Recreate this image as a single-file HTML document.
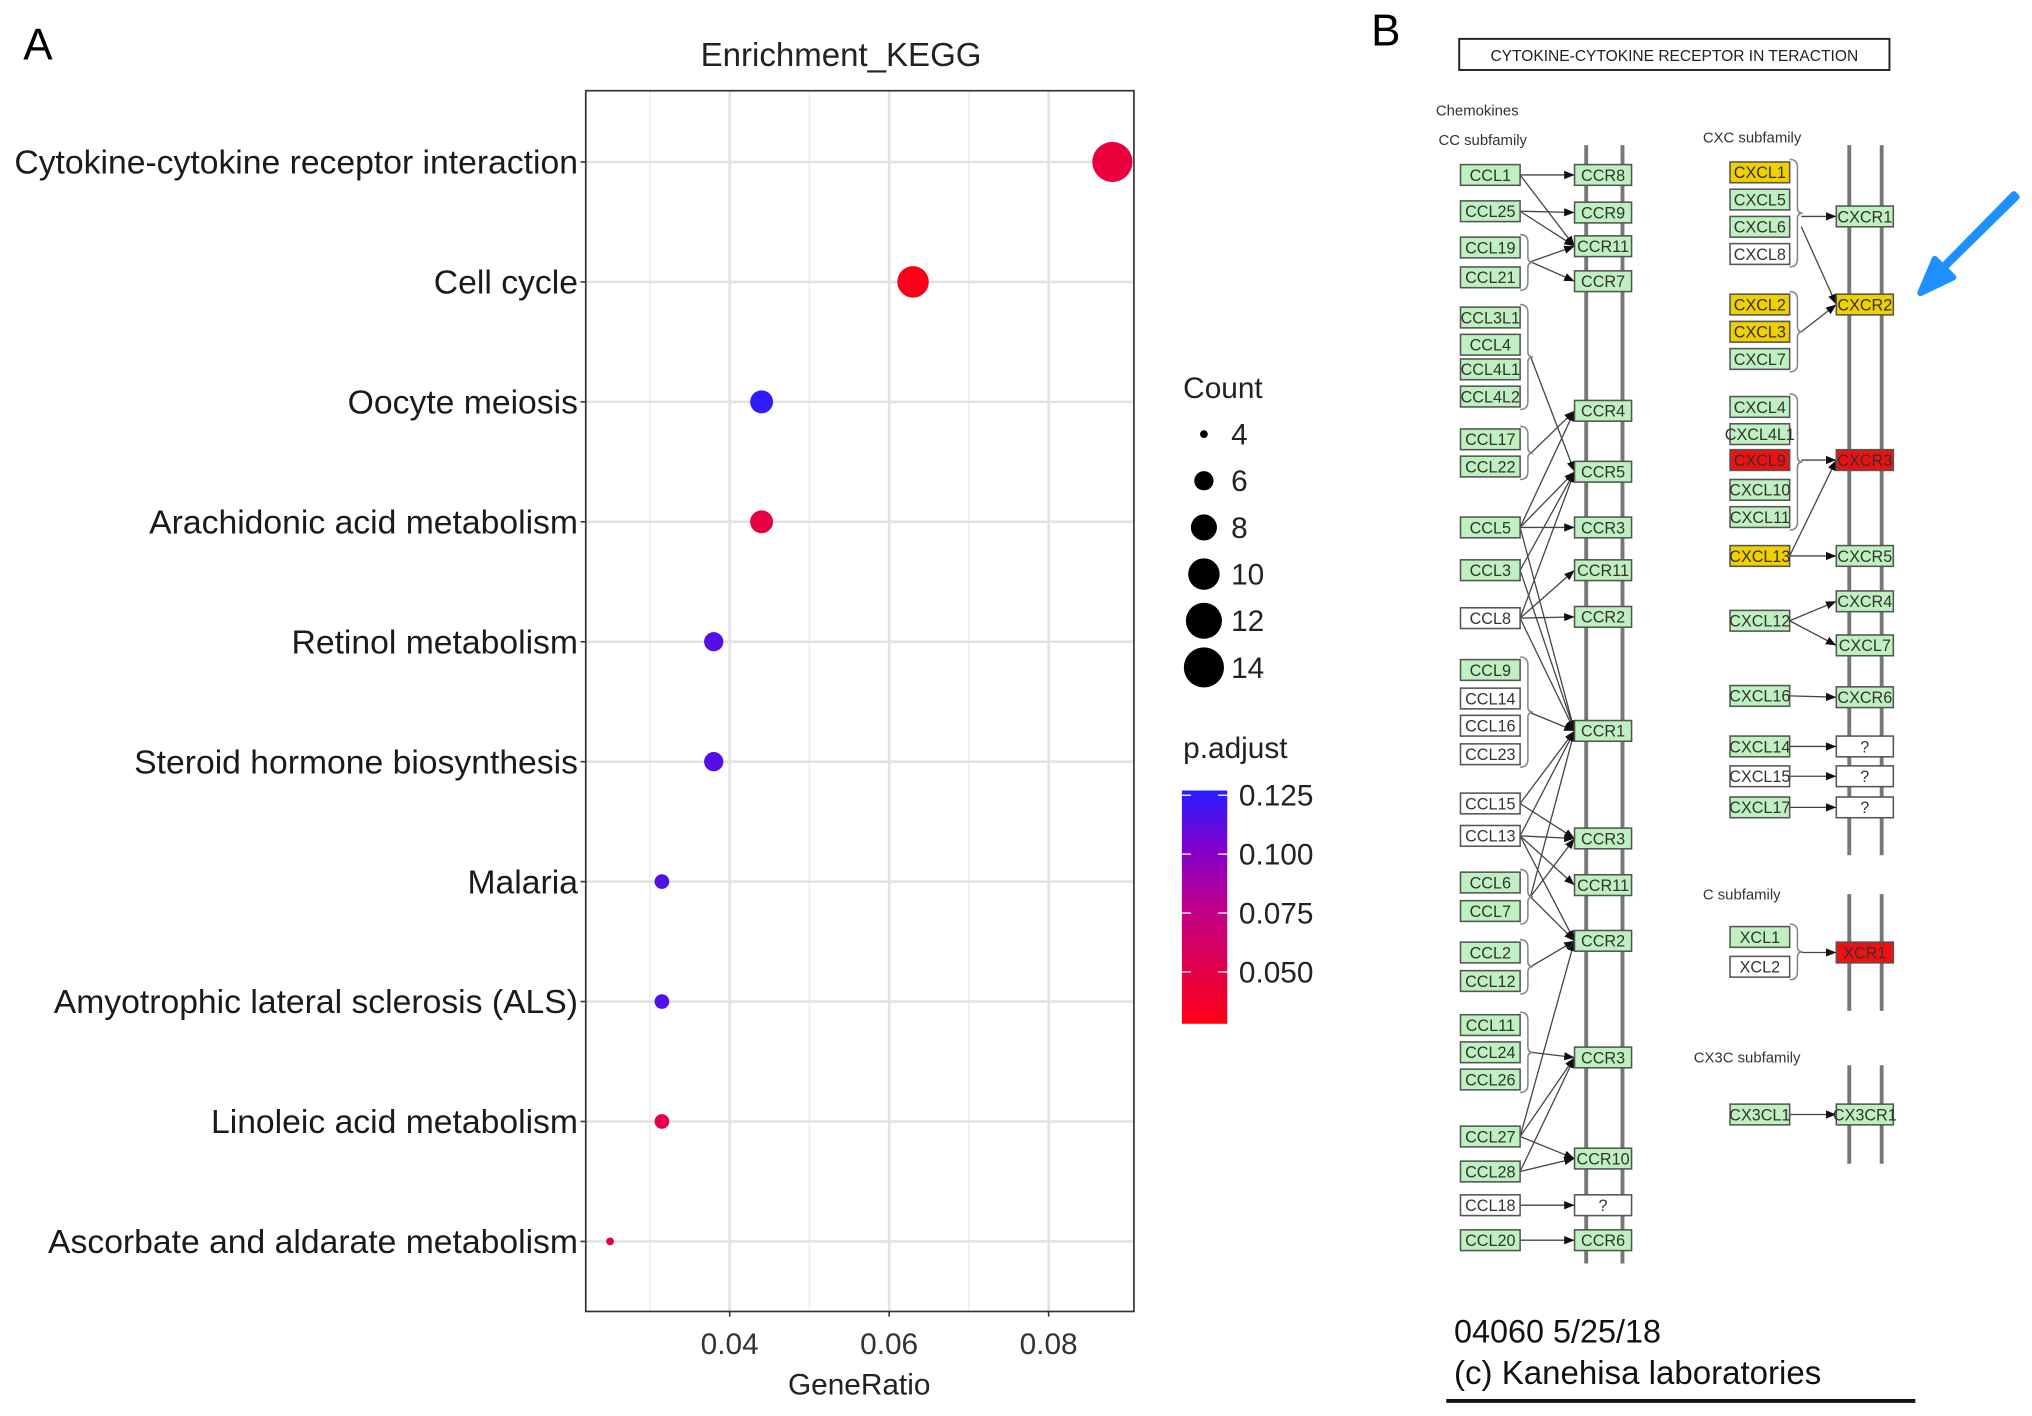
<!DOCTYPE html>
<html><head><meta charset="utf-8">
<style>
html,body{margin:0;padding:0;background:#fff;}
svg{display:block;font-family:"Liberation Sans",Arial,sans-serif;}
</style></head>
<body>
<svg id="fig" width="2032" height="1416" viewBox="0 0 1568 1092.66" xmlns="http://www.w3.org/2000/svg">
<defs>
<marker id="ah" viewBox="0 0 10 10" refX="10" refY="5" markerWidth="8" markerHeight="8" orient="auto-start-reverse"><path d="M0,1 L10,5 L0,9 z" fill="#111"/></marker>
<linearGradient id="cbar" x1="0" y1="1" x2="0" y2="0">
<stop offset="0" stop-color="rgb(255,0,20)"/><stop offset="0.25" stop-color="rgb(225,0,80)"/><stop offset="0.5" stop-color="rgb(190,0,140)"/><stop offset="0.75" stop-color="rgb(130,0,205)"/><stop offset="1" stop-color="rgb(40,30,255)"/>
</linearGradient>
</defs>
<text x="18" y="46" font-size="34">A</text>
<text x="1058" y="35" font-size="34">B</text>
<g id="chartA"></g>
<g id="legend"></g>
<g id="kegg"></g>
</svg>
<script>
const categories=["Cytokine-cytokine receptor interaction","Cell cycle","Oocyte meiosis","Arachidonic acid metabolism","Retinol metabolism","Steroid hormone biosynthesis","Malaria","Amyotrophic lateral sclerosis (ALS)","Linoleic acid metabolism","Ascorbate and aldarate metabolism"];
const geneRatio=[0.088,0.063,0.044,0.044,0.038,0.038,0.0315,0.0315,0.0315,0.025];
const counts=[14,10,7,7,6,6,5,5,5,4];
const padj=[0.045,0.030,0.125,0.048,0.115,0.115,0.116,0.116,0.050,0.055];
const xTicks=[0.04,0.06,0.08];
const xMinor=[0.03,0.05,0.07];
const sizeBreaks=[4,6,8,10,12,14];
const colorBreaks=[0.125,0.100,0.075,0.050];

const NS="http://www.w3.org/2000/svg";
function mk(tag,attrs,parent,txt){const e=document.createElementNS(NS,tag);for(const k in attrs)e.setAttribute(k,attrs[k]);if(txt!==undefined)e.textContent=txt;parent.appendChild(e);return e;}
const PL=452,PR=875,PT=70,PB=1012;
const XMIN=0.02195,XMAX=0.0907;
function xs(v){return PL+(v-XMIN)/(XMAX-XMIN)*(PR-PL);}
function ys(i){return 125+i*92.55;}
function rs(c){return Math.sqrt(9+(c-4)*23.1);}
const PMIN=0.028,PMAX=0.127;
const stops=[[0,[255,0,20]],[0.25,[225,0,80]],[0.5,[190,0,140]],[0.75,[130,0,205]],[1,[40,30,255]]];
function col(p){let t=Math.max(0,Math.min(1,(p-PMIN)/(PMAX-PMIN)));for(let i=1;i<stops.length;i++){if(t<=stops[i][0]){const a=stops[i-1],b=stops[i];const f=(t-a[0])/(b[0]-a[0]);const c=a[1].map((v,j)=>Math.round(v+(b[1][j]-v)*f));return`rgb(${c})`;}}return"rgb(40,30,255)";}
function cbY(p){return 790-(p-PMIN)/(PMAX-PMIN)*180;}

const A=document.getElementById('chartA');
mk('text',{x:649,y:51,'font-size':25.5,'text-anchor':'middle','fill':'#222'},A,'Enrichment_KEGG');
mk('rect',{x:PL,y:PT,width:PR-PL,height:PB-PT,fill:'#fff'},A);
xMinor.forEach(v=>{const l=mk('line',{x1:xs(v),x2:xs(v),y1:PT,y2:PB,stroke:'#ececec','stroke-width':1.2},A);});
xTicks.forEach(v=>{const l=mk('line',{x1:xs(v),x2:xs(v),y1:PT,y2:PB,stroke:'#e2e2e2','stroke-width':2},A);});
categories.forEach((c,i)=>{const l=mk('line',{x1:PL,x2:PR,y1:ys(i),y2:ys(i),stroke:'#e2e2e2','stroke-width':2},A);});
const frame=mk('rect',{x:PL,y:PT,width:PR-PL,height:PB-PT,fill:'none',stroke:'#333','stroke-width':1.3},A);

categories.forEach((c,i)=>{
 mk('line',{x1:PL-4,x2:PL,y1:ys(i),y2:ys(i),stroke:'#333','stroke-width':1.2},A);
 const t=mk('text',{x:PL-6,y:ys(i)+9,'font-size':26,'text-anchor':'end',fill:'#1a1a1a'},A,c);
 
 const d=mk('circle',{cx:xs(geneRatio[i]),cy:ys(i),r:rs(counts[i]),fill:col(padj[i])},A);
 
 
});
xTicks.forEach(v=>{
 mk('line',{x1:xs(v),x2:xs(v),y1:PB,y2:PB+4,stroke:'#333','stroke-width':1.2},A);
 const t=mk('text',{x:xs(v),y:1045,'font-size':23,'text-anchor':'middle',fill:'#333'},A,v.toFixed(2));
 
});
const xt=mk('text',{x:663,y:1076,'font-size':23,'text-anchor':'middle',fill:'#222'},A,'GeneRatio');


const L=document.getElementById('legend');
const lt=mk('text',{x:913,y:307,'font-size':23,fill:'#222'},L,'Count');

sizeBreaks.forEach((c,i)=>{const y=335+i*36;
 const d=mk('circle',{cx:929,cy:y,r:rs(c),fill:'#000'},L);
 const t=mk('text',{x:950,y:y+8,'font-size':23,fill:'#222'},L,String(c));});
const pt=mk('text',{x:913,y:585,'font-size':23,fill:'#222'},L,'p.adjust');

const cb=mk('rect',{x:912,y:610,width:35,height:180,fill:'url(#cbar)'},L);

colorBreaks.forEach(p=>{const y=cbY(p);
 mk('line',{x1:912,x2:919,y1:y,y2:y,stroke:'#fff','stroke-width':1},L);
 mk('line',{x1:940,x2:947,y1:y,y2:y,stroke:'#fff','stroke-width':1},L);
 const t=mk('text',{x:956,y:y+8,'font-size':23,fill:'#222'},L,p.toFixed(3));});

// Panel B
const K=document.getElementById('kegg');
const G='#bff0bf',W='#fff',Y='#f0d000',R='#ee1111';
const tb=mk('rect',{x:1126,y:30,width:332,height:24,fill:'#fff',stroke:'#222','stroke-width':1.5},K);
mk('text',{x:1292,y:47,'font-size':12,'text-anchor':'middle',fill:'#222'},K,'CYTOKINE-CYTOKINE RECEPTOR IN TERACTION');
[['Chemokines',1108,89],['CC subfamily',1110,112],['CXC subfamily',1314,110],['C subfamily',1314,694],['CX3C subfamily',1307,820]].forEach(a=>{const t=mk('text',{x:a[1],y:a[2],'font-size':11.5,fill:'#333'},K,a[0]);});
[[1224,112,975],[1252,112,975],[1427,112,660],[1452,112,660],[1427,690,780],[1452,690,780],[1427,822,898],[1452,822,898]].forEach(m=>{const l=mk('line',{x1:m[0],x2:m[0],y1:m[1],y2:m[2],stroke:'#777','stroke-width':3},K);});
function box(x,y,w,label,fill){const g=mk('g',{},K);
 mk('rect',{x:x,y:y-8,width:w,height:16,fill:fill,stroke:'#555','stroke-width':1.2},g);
 mk('text',{x:x+w/2,y:y+4.5,'font-size':12.5,'text-anchor':'middle',fill:'#333'},g,label);}
const ccl=[['CCL1',135,G],['CCL25',163,G],['CCL19',191,G],['CCL21',214,G],['CCL3L1',245,G],['CCL4',266,G],['CCL4L1',285,G],['CCL4L2',306,G],['CCL17',339,G],['CCL22',360,G],['CCL5',407,G],['CCL3',440,G],['CCL8',477,W],['CCL9',517,G],['CCL14',539,W],['CCL16',560,W],['CCL23',582,W],['CCL15',620,W],['CCL13',645,W],['CCL6',681,G],['CCL7',703,G],['CCL2',735,G],['CCL12',757,G],['CCL11',791,G],['CCL24',812,G],['CCL26',833,G],['CCL27',877,G],['CCL28',904,G],['CCL18',930,W],['CCL20',957,G]];
const ccr=[['CCR8',135,G],['CCR9',164,G],['CCR11',190,G],['CCR7',217,G],['CCR4',317,G],['CCR5',364,G],['CCR3',407,G],['CCR11',440,G],['CCR2',476,G],['CCR1',564,G],['CCR3',647,G],['CCR11',683,G],['CCR2',726,G],['CCR3',816,G],['CCR10',894,G],['?',930,W],['CCR6',957,G]];
const cxl=[['CXCL1',133,Y],['CXCL5',154,G],['CXCL6',175,G],['CXCL8',196,W],['CXCL2',235,Y],['CXCL3',256,Y],['CXCL7',277,G],['CXCL4',314,G],['CXCL4L1',335,G],['CXCL9',355,R],['CXCL10',378,G],['CXCL11',399,G],['CXCL13',429,Y],['CXCL12',479,G],['CXCL16',537,G],['CXCL14',576,G],['CXCL15',599,W],['CXCL17',623,G],['XCL1',723,G],['XCL2',746,W],['CX3CL1',860,G]];
const cxr=[['CXCR1',167,G],['CXCR2',235,Y],['CXCR3',355,R],['CXCR5',429,G],['CXCR4',464,G],['CXCL7',498,G],['CXCR6',538,G],['?',576,W],['?',599,W],['?',623,W],['XCR1',735,R],['CX3CR1',860,G]];
const LX=1173,RX=1215;
const ccEdges=[[135,135],[135,190],[163,164],[163,190],[[1181,202],190],[[1181,202],217],[[1181,275],364],[[1181,350],317],[407,317],[407,364],[407,407],[407,564],[440,364],[440,564],[477,440],[477,476],[477,364],[477,564],[[1181,550],564],[620,564],[620,647],[645,564],[645,647],[645,683],[645,726],[[1181,692],647],[[1181,692],726],[[1181,692],564],[[1181,746],726],[[1181,812],816],[877,894],[877,816],[877,726],[904,894],[904,816],[930,930],[957,957]];
ccEdges.forEach(e=>{let x1=LX,y1;if(Array.isArray(e[0])){x1=e[0][0];y1=e[0][1];}else y1=e[0];
 const l=mk('line',{x1:x1,y1:y1,x2:RX,y2:e[1],stroke:'#444','stroke-width':1,'marker-end':'url(#ah)'},K);});
const LX2=1381,RX2=1417;
const cxEdges=[[[1390,167],167],[[1390,175],235],[[1390,256],235],[[1390,355],355],[429,355],[429,429],[479,464],[479,498],[537,538],[576,576],[599,599],[623,623],[[1390,735],735],[860,860]];
cxEdges.forEach(e=>{let x1=LX2,y1;if(Array.isArray(e[0])){x1=e[0][0];y1=e[0][1];}else y1=e[0];
 const l=mk('line',{x1:x1,y1:y1,x2:RX2,y2:e[1],stroke:'#444','stroke-width':1,'marker-end':'url(#ah)'},K);});
function bracket(x,y1,y2){const m=(y1+y2)/2;const p=mk('path',{d:`M${x},${y1} q6,0 6,6 L${x+6},${m-4} q0,4 4,4 q-4,0 -4,4 L${x+6},${y2-6} q0,6 -6,6`,fill:'none',stroke:'#888','stroke-width':1.2},K);}
[[181,224],[235,316],[329,370],[507,592],[671,713],[725,767],[781,843]].forEach(b=>bracket(1173,b[0],b[1]));
[[123,206],[225,287],[304,409],[713,756]].forEach(b=>bracket(1381,b[0],b[1]));
ccl.forEach(a=>box(1127,a[1],46,a[0],a[2]));
ccr.forEach(a=>box(1215,a[1],44,a[0],a[2]));
cxl.forEach(a=>box(1335,a[1],46,a[0],a[2]));
cxr.forEach(a=>box(1417,a[1],44,a[0],a[2]));
const ba=mk('path',{d:'M1556,152 L1500,207 L1507,214 L1482,226 L1493,200 L1499,206 L1554,150 z',fill:'#1e90ff',stroke:'#1e90ff','stroke-width':5,'stroke-linejoin':'round'},K);

mk('text',{x:1122,y:1036,'font-size':25,fill:'#111'},K,'04060 5/25/18');
mk('text',{x:1122,y:1068,'font-size':25.5,fill:'#111'},K,'(c) Kanehisa laboratories');
mk('line',{x1:1116,x2:1478,y1:1081,y2:1081,stroke:'#111','stroke-width':3},K);
</script>
</body></html>
